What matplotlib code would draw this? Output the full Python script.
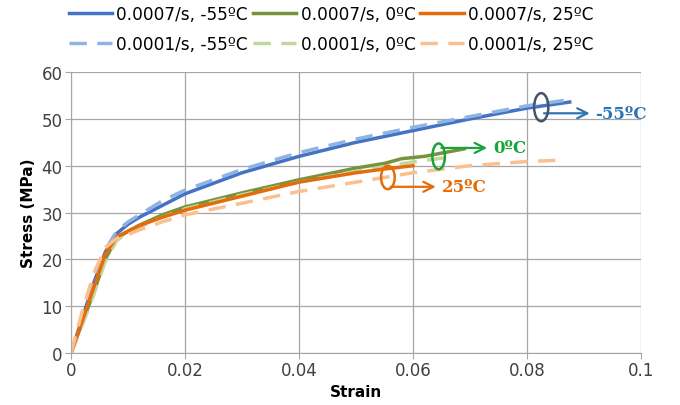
import numpy as np
import matplotlib
matplotlib.use("Agg")
import matplotlib.pyplot as plt
from matplotlib.patches import Ellipse

# strain / stress curves
x_m55_fast = [0, 0.002, 0.004, 0.006, 0.008, 0.010, 0.012, 0.016, 0.02, 0.03, 0.04, 0.05, 0.06, 0.07, 0.08, 0.0875]
y_m55_fast = [0, 7.5, 15, 21.5, 25.5, 27.5, 29, 31.5, 34, 38.5, 42, 45, 47.5, 50, 52.3, 53.6]
x_m55_slow = [0, 0.002, 0.004, 0.006, 0.008, 0.010, 0.012, 0.016, 0.02, 0.03, 0.04, 0.05, 0.06, 0.07, 0.08, 0.088]
y_m55_slow = [0, 8, 15.5, 22, 26, 28, 29.5, 32.5, 34.8, 39.2, 42.8, 45.7, 48.2, 50.5, 52.8, 54.2]

x_0_fast = [0, 0.002, 0.004, 0.006, 0.008, 0.010, 0.012, 0.016, 0.02, 0.03, 0.04, 0.05, 0.055, 0.058, 0.062, 0.069]
y_0_fast = [0, 6.5, 13, 20, 24.5, 26, 27.3, 29.5, 31.2, 34.2, 37, 39.5, 40.5, 41.5, 42, 43.6]
x_0_slow = [0, 0.002, 0.004, 0.006, 0.008, 0.010, 0.012, 0.016, 0.02, 0.03, 0.04, 0.05, 0.06, 0.0668]
y_0_slow = [0, 6, 12.5, 19.5, 24, 25.8, 27, 29, 30.8, 33.8, 36.5, 38.8, 40.8, 41.9]

x_25_fast = [0, 0.002, 0.004, 0.006, 0.008, 0.010, 0.012, 0.016, 0.02, 0.03, 0.04, 0.05, 0.055, 0.06]
y_25_fast = [0, 7, 14, 21, 24.8, 26, 27.2, 29, 30.5, 33.5, 36.5, 38.5, 39.3, 40]
x_25_slow = [0, 0.002, 0.004, 0.006, 0.008, 0.010, 0.012, 0.016, 0.02, 0.03, 0.04, 0.05, 0.06, 0.07, 0.08, 0.086]
y_25_slow = [0, 9, 17, 22.5, 24.5, 25.3, 26.3, 28, 29.5, 32, 34.5, 36.5, 38.5, 40, 40.9, 41.2]

labels = ["0.0007/s, -55ºC", "0.0001/s, -55ºC", "0.0007/s, 0ºC", "0.0001/s, 0ºC",
          "0.0007/s, 25ºC", "0.0001/s, 25ºC"]

fig = plt.figure(figsize=(6.8, 4.06), dpi=100)
ax = fig.add_axes([0.1044, 0.128, 0.8382, 0.692])

lw = 2.5
h1, = ax.plot(x_m55_fast, y_m55_fast, color="#4472C4", lw=lw)
h2, = ax.plot(x_m55_slow, y_m55_slow, color="#8EB4E3", lw=lw, dashes=(5, 3))
h3, = ax.plot(x_0_fast, y_0_fast, color="#77933C", lw=lw)
h4, = ax.plot(x_0_slow, y_0_slow, color="#C3D69B", lw=lw, dashes=(5, 3))
h5, = ax.plot(x_25_fast, y_25_fast, color="#E46C0A", lw=lw)
h6, = ax.plot(x_25_slow, y_25_slow, color="#FAC090", lw=lw, dashes=(5, 3))

ax.set_xlim(0, 0.1)
ax.set_ylim(0, 60)
ax.set_xticks([0, 0.02, 0.04, 0.06, 0.08, 0.1])
ax.set_xticklabels(["0", "0.02", "0.04", "0.06", "0.08", "0.1"])
ax.set_yticks(range(0, 61, 10))
ax.grid(True, color="#A6A6A6", lw=0.9)
ax.set_axisbelow(True)
for s in ["top", "right"]:
    ax.spines[s].set_visible(False)
for s in ["left", "bottom"]:
    ax.spines[s].set_color("#A6A6A6")
ax.tick_params(colors="#A6A6A6", labelcolor="#404040", labelsize=12, length=4, pad=2)
ax.set_xlabel("Strain", fontsize=11, fontweight="bold", labelpad=3)
ax.set_ylabel("Stress (MPa)", fontsize=11, fontweight="bold")

fig.legend([h1, h2, h3, h4, h5, h6], labels,
           ncol=3, frameon=False, loc="upper center", bbox_to_anchor=(0.487, 1.022),
           fontsize=12.2, handlelength=2.55, columnspacing=0.3, handletextpad=0.25,
           labelspacing=0.7)

# annotations: ellipse + arrow + label
notes = [
    (0.0825, 52.5, 0.0025, 6.0, "#44546A", 51.2, 0.0915, "-55ºC", "#2E75B6"),
    (0.0645, 42.0, 0.0022, 5.5, "#1AA33A", 43.8, 0.0735, "0ºC", "#1AA33A"),
    (0.0556, 37.5, 0.0024, 5.0, "#E46C0A", 35.5, 0.0645, "25ºC", "#E46C0A"),
]
for cx, cy, w, h, ec, ay, ax2, label, tc in notes:
    ax.add_patch(Ellipse((cx, cy), w, h, fill=False, ec=ec, lw=1.8, zorder=5))
    ax.annotate("", xy=(ax2, ay), xytext=(cx, ay),
                arrowprops=dict(arrowstyle="->", color=tc, lw=1.6, mutation_scale=18))
    ax.text(ax2 + 0.0005, ay, label, color=tc, fontsize=12, fontweight="bold",
            family="DejaVu Serif", va="center", ha="left", clip_on=False)

fig.savefig("out.png", dpi=100)
